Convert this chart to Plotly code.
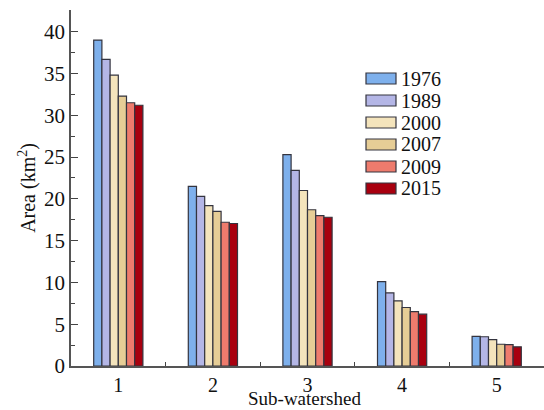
import plotly.graph_objects as go

# Sub-watershed index and area per survey year (km²)
subwatersheds = [1, 2, 3, 4, 5]
years = ["1976", "1989", "2000", "2007", "2009", "2015"]
area_1976 = [39.0, 21.5, 25.3, 10.1, 3.55]
area_1989 = [36.7, 20.3, 23.4, 8.75, 3.5]
area_2000 = [34.8, 19.2, 21.0, 7.8, 3.15]
area_2007 = [32.3, 18.5, 18.7, 7.0, 2.6]
area_2009 = [31.5, 17.2, 18.0, 6.5, 2.55]
area_2015 = [31.2, 17.05, 17.8, 6.2, 2.3]
series = [area_1976, area_1989, area_2000, area_2007, area_2009, area_2015]
colors = ["#7eb0ec", "#b4b6e6", "#f4e4bc", "#e6cd96", "#ee7b6d", "#a8000f"]

FONT = "Liberation Serif"
W, H = 544, 410
ML, MR, MT, MB = 71, 0, 10, 44
YMAX = 42.6

fig = go.Figure()
for name, vals, col in zip(years, series, colors):
    fig.add_trace(go.Bar(
        x=subwatersheds, y=vals, name=name,
        marker=dict(color=col, line=dict(color="#34343f", width=1.2)),
        showlegend=False,
    ))

# Legend drawn as wide swatches with labels, stacked top to bottom
pw, ph = W - ML - MR, H - MT - MB
def px_to_paper_x(px):
    return (px - ML) / pw
def px_to_paper_y(py):
    return (H - MB - py) / ph

shapes = []
annotations = []
for i, (name, col) in enumerate(zip(years, colors)):
    cy = 78.5 + 22 * i
    shapes.append(dict(
        type="rect", xref="paper", yref="paper",
        x0=px_to_paper_x(366), x1=px_to_paper_x(396),
        y0=px_to_paper_y(cy + 5.5), y1=px_to_paper_y(cy - 5.5),
        fillcolor=col, line=dict(color="#34343f", width=1.2),
    ))
    annotations.append(dict(
        xref="paper", yref="paper",
        x=px_to_paper_x(399), y=px_to_paper_y(cy),
        xanchor="left", yanchor="middle", showarrow=False,
        text=name, font=dict(family=FONT, size=20, color="#111"),
    ))

# x-axis title sits low, just under the category labels
annotations.append(dict(
    xref="paper", yref="paper",
    x=px_to_paper_x(304), y=0, yshift=-44,
    xanchor="center", yanchor="bottom", showarrow=False,
    borderpad=0,
    text="Sub-watershed", font=dict(family=FONT, size=19, color="#111"),
))

fig.update_layout(
    width=W, height=H,
    margin=dict(l=ML, r=MR, t=MT, b=MB, autoexpand=False),
    paper_bgcolor="white", plot_bgcolor="white",
    barmode="group", bargap=0.48, bargroupgap=0,
    font=dict(family=FONT, color="#111"),
    shapes=shapes, annotations=annotations,
)
fig.update_xaxes(
    range=[0.5, 5.5], automargin=False,
    tickmode="array", tickvals=subwatersheds,
    ticktext=[str(s) for s in subwatersheds],
    ticks="", tickfont=dict(family=FONT, size=20),
    minor=dict(tickmode="array", tickvals=[1.5, 2.5, 3.5, 4.5],
               ticks="inside", ticklen=4, tickcolor="#444", tickwidth=1),
    showline=True, linecolor="#555", linewidth=1.5,
    showgrid=False, zeroline=False,
)
fig.update_yaxes(
    range=[0, YMAX], automargin=False,
    tickmode="linear", tick0=0, dtick=5,
    ticks="inside", ticklen=7, tickcolor="#444", tickwidth=1,
    minor=dict(dtick=2.5, ticks="inside", ticklen=4, tickcolor="#444", tickwidth=1),
    tickfont=dict(family=FONT, size=21),
    showline=True, linecolor="#555", linewidth=1.5,
    showgrid=False, zeroline=False,
    title=dict(text="Area (km<sup>2</sup>)", font=dict(family=FONT, size=20), standoff=3),
)

fig.write_html("out.html")
